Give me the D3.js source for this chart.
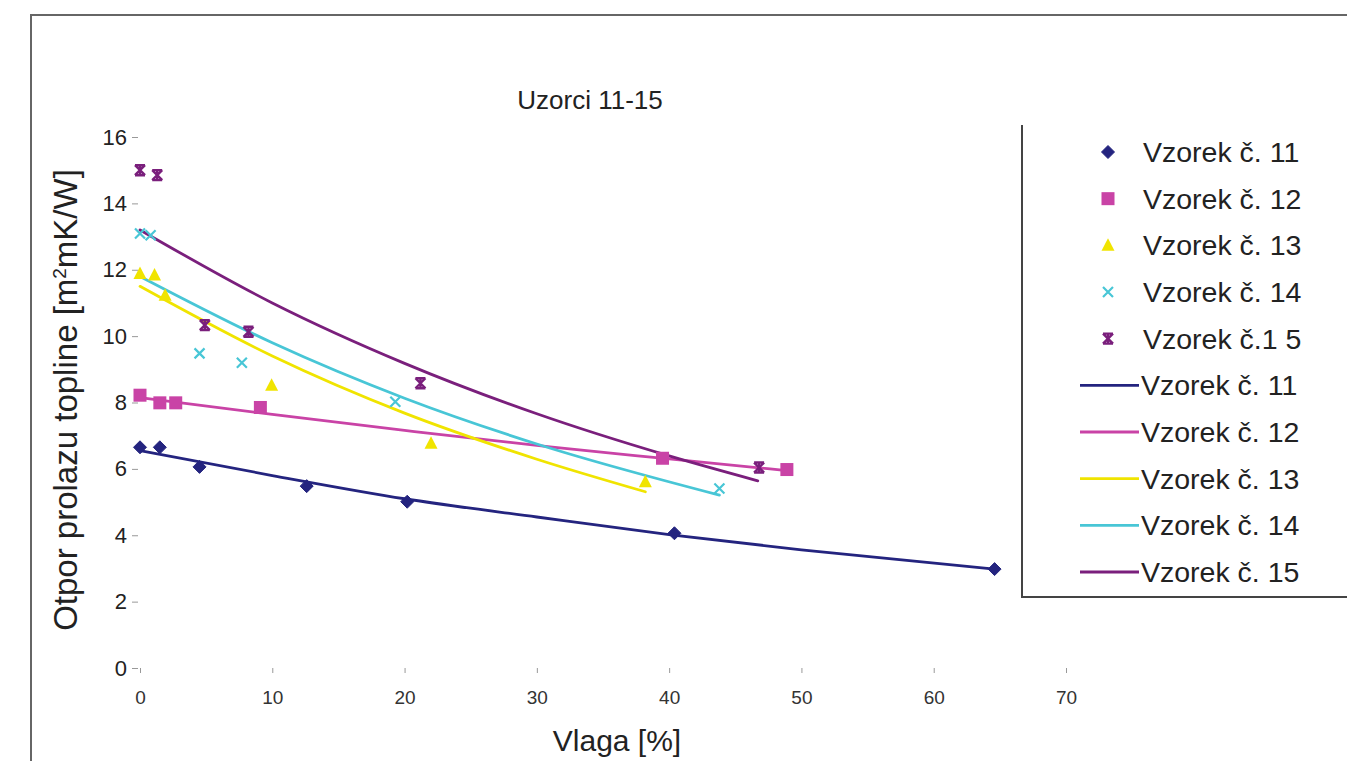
<!DOCTYPE html>
<html>
<head>
<meta charset="utf-8">
<script src="https://cdn.jsdelivr.net/npm/d3@7"></script>
<style>
    body { margin: 0; background: #fff; }
    svg { display: block; font-family: "Liberation Sans", Arial, sans-serif; }
    .tick line { stroke: #999; }
    .y.axis .tick text { font-size: 22px; fill: #222; }
    .x.axis .tick text { font-size: 19px; fill: #333; }
</style>
</head>
<body>
<svg id="chart" width="1347" height="761"></svg>
<script>
const s11x = [0, 1.5, 4.5, 12.6, 20.2, 40.4, 64.6];
const s11y = [6.65, 6.65, 6.06, 5.48, 5.01, 4.06, 2.98];
const s12x = [0, 1.5, 2.7, 9.1, 39.5, 48.9];
const s12y = [8.22, 7.99, 7.99, 7.85, 6.32, 5.98];
const s13x = [0, 1.1, 1.9, 9.95, 22.0, 38.2];
const s13y = [11.89, 11.84, 11.23, 8.52, 6.77, 5.61];
const s14x = [0, 0.8, 4.5, 7.7, 19.3, 43.8];
const s14y = [13.09, 13.04, 9.48, 9.2, 8.02, 5.41];
const s15x = [0, 1.3, 4.9, 8.2, 21.2, 46.8];
const s15y = [15.0, 14.85, 10.33, 10.13, 8.58, 6.04];

// trendlines, also
const t11x = [0, 10, 20, 30, 40, 50, 64.6];
const t11y = [6.55, 5.8, 5.1, 4.55, 4.02, 3.56, 2.98];
const t12x = [0, 10, 20, 31, 40, 48.9];
const t12y = [8.15, 7.64, 7.16, 6.66, 6.3, 5.95];
const t13x = [0, 10, 20, 30, 38.2];
const t13y = [11.5, 9.4, 7.68, 6.29, 5.31];
const t14x = [0, 10, 20, 30, 43.8];
const t14y = [11.8, 9.8, 8.13, 6.75, 5.21];
const t15x = [0, 10, 20, 30, 40, 46.7];
const t15y = [13.2, 11.0, 9.18, 7.66, 6.39, 5.64];

const pointNames = ["Vzorek č. 11", "Vzorek č. 12", "Vzorek č. 13", "Vzorek č. 14", "Vzorek č.1 5"];
const lineNames = ["Vzorek č. 11", "Vzorek č. 12", "Vzorek č. 13", "Vzorek č. 14", "Vzorek č. 15"];
const xTicks = [0, 10, 20, 30, 40, 50, 60, 70];
const yTicks = [0, 2, 4, 6, 8, 10, 12, 14, 16];

const colors = ["#24247f", "#c943a6", "#f0e400", "#48c6d6", "#7a1f7c"];
const shapes = ["diamond", "square", "triangle", "cross", "star"];

const zip = (xs, ys) => xs.map((x, i) => [x, ys[i]]);
const points = [zip(s11x, s11y), zip(s12x, s12y), zip(s13x, s13y), zip(s14x, s14y), zip(s15x, s15y)];
const trends = [zip(t11x, t11y), zip(t12x, t12y), zip(t13x, t13y), zip(t14x, t14y), zip(t15x, t15y)];

const svg = d3.select("#chart");

const scaleX = d3.scaleLinear().domain([0, 70]).range([140, 1066]);
const scaleY = d3.scaleLinear().domain([0, 16]).range([668, 137]);

/**
 * outer frame, only top and left edges are inside the picture
 */
svg.append("path")
    .attr("d", "M31,761 L31,15 L1347,15")
    .attr("fill", "none")
    .attr("stroke", "#666")
    .attr("stroke-width", 2);

/**
 * axes: ticks only, no axis line
 */
const yAxis = svg.append("g")
    .attr("class", "y axis")
    .attr("transform", "translate(138,0)")
    .call(d3.axisLeft(scaleY).tickValues(yTicks).tickSize(6).tickPadding(5));
yAxis.select(".domain").remove();
yAxis.selectAll(".tick text").attr("font-family", null);

const xAxis = svg.append("g")
    .attr("class", "x axis")
    .attr("transform", "translate(0,668)")
    .call(d3.axisBottom(scaleX).tickValues(xTicks).tickSize(5).tickPadding(18));
xAxis.select(".domain").remove();
xAxis.selectAll(".tick text").attr("font-family", null);

// titles
svg.append("text")
    .attr("x", 590).attr("y", 100)
    .attr("dy", "0.35em")
    .attr("text-anchor", "middle")
    .attr("font-size", 26)
    .attr("fill", "#222")
    .text("Uzorci 11-15");

svg.append("text")
    .attr("x", 617).attr("y", 740)
    .attr("dy", "0.35em")
    .attr("text-anchor", "middle")
    .attr("font-size", 30)
    .attr("fill", "#222")
    .text("Vlaga [%]");

const yTitle = svg.append("text")
    .attr("transform", "translate(65,400) rotate(-90)")
    .attr("dy", "0.35em")
    .attr("text-anchor", "middle")
    .attr("font-size", 33)
    .attr("fill", "#222");
yTitle.append("tspan").text("Otpor prolazu topline [m");
yTitle.append("tspan").attr("font-size", 19).attr("dy", "-0.55em").text("2");
yTitle.append("tspan").attr("dy", "0.33em").text("mK/W]");

/**
 * trendlines
 */
const line = d3.line()
    .x(d => scaleX(d[0]))
    .y(d => scaleY(d[1]))
    .curve(d3.curveMonotoneX);

svg.append("g").selectAll("path")
    .data(trends)
    .join("path")
    .attr("d", line)
    .attr("fill", "none")
    .attr("stroke", (d, i) => colors[i])
    .attr("stroke-width", 2.8)
    .attr("stroke-linecap", "round");

/**
 * draws one marker shape centred on 0,0
 */
const marker = (g, shape, color) => {
    if (shape === "diamond") {
        g.append("path").attr("d", "M0,-6.5 L6.5,0 L0,6.5 L-6.5,0 Z").attr("fill", color)
            .attr("stroke", color).attr("stroke-width", 1).attr("stroke-linejoin", "round");
    } else if (shape === "square") {
        g.append("rect").attr("x", -6.5).attr("y", -6.5).attr("width", 13).attr("height", 13).attr("fill", color);
    } else if (shape === "triangle") {
        g.append("path").attr("d", "M0,-7 L6.5,5.5 L-6.5,5.5 Z").attr("fill", color);
    } else if (shape === "cross") {
        g.append("path").attr("d", "M-5,-5 L5,5 M5,-5 L-5,5")
            .attr("stroke", color).attr("stroke-width", 2.2).attr("fill", "none");
    } else {
        g.append("path").attr("d", "M-5,-5 L5,5 M5,-5 L-5,5 M0,-5 L0,5 M-5,-5 L5,-5 M-5,5 L5,5")
            .attr("stroke", color).attr("stroke-width", 2.4).attr("fill", "none");
    }
};

points.forEach((pts, i) => {
    const grp = svg.append("g");
    pts.forEach(p => {
        const m = grp.append("g").attr("transform", "translate(" + scaleX(p[0]) + "," + scaleY(p[1]) + ")");
        marker(m, shapes[i], colors[i]);
    });
});

/**
 * legend box: left and bottom edge only
 */
svg.append("path")
    .attr("d", "M1022,125 L1022,597 L1347,597")
    .attr("fill", "none")
    .attr("stroke", "#444")
    .attr("stroke-width", 2);

const legendY = d3.scalePoint().domain(d3.range(10)).range([152, 572]);

pointNames.forEach((name, i) => {
    const m = svg.append("g").attr("transform", "translate(1108," + legendY(i) + ")");
    marker(m, shapes[i], colors[i]);
    svg.append("text")
        .attr("x", 1143).attr("y", legendY(i))
        .attr("dy", "0.35em")
        .attr("font-size", 28.5)
        .attr("fill", "#222")
        .text(name);
});

lineNames.forEach((name, i) => {
    const y = legendY(i + 5);
    svg.append("line")
        .attr("x1", 1080).attr("x2", 1139)
        .attr("y1", y).attr("y2", y)
        .attr("stroke", colors[i])
        .attr("stroke-width", 2.8);
    svg.append("text")
        .attr("x", 1141).attr("y", y)
        .attr("dy", "0.35em")
        .attr("font-size", 28.5)
        .attr("fill", "#222")
        .text(name);
});
</script>
</body>
</html>
